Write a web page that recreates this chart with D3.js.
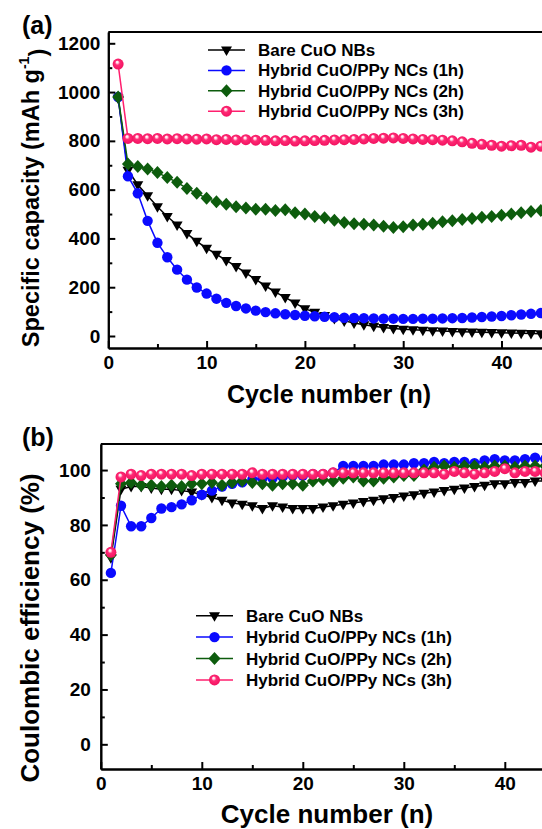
<!doctype html>
<html>
<head>
<meta charset="utf-8">
<style>
  body { margin: 0; background: #fff; }
  svg { display: block; font-family: "Liberation Sans", Arial, sans-serif; font-weight: bold; }
</style>
<script src="https://cdn.jsdelivr.net/npm/d3@7"></script>
</head>
<body>
<script>
// cycle numbers (x values)
var cycles = [1, 2, 3, 4, 5, 6, 7, 8, 9, 10, 11, 12, 13, 14, 15, 16, 17, 18, 19, 20,
  21, 22, 23, 24, 25, 26, 27, 28, 29, 30, 31, 32, 33, 34, 35, 36, 37, 38, 39, 40,
  41, 42, 43, 44, 45];

var seriesNames = ["Bare CuO NBs", "Hybrid CuO/PPy NCs (1h)",
  "Hybrid CuO/PPy NCs (2h)", "Hybrid CuO/PPy NCs (3h)"];

// (a) specific capacity, mAh/g
var capBare = [975, 680, 620, 575, 530, 490, 455, 420, 388, 360, 335, 310, 285, 258, 232, 205, 180, 158, 135, 112,
  97, 84, 72, 62, 53, 46, 40, 35, 31, 28, 26, 24, 22, 20, 18, 17, 16, 15, 14, 13, 12, 11, 10, 9, 8];
var capH1 = [980, 655, 585, 472, 382, 323, 272, 231, 199, 174, 153, 136, 123, 113, 104, 98, 93, 89, 86, 83,
  81, 79, 77, 75, 74, 73, 72, 71, 71, 70, 70, 71, 71, 72, 73, 74, 76, 78, 80, 82, 85, 88, 91, 94, 97];
var capH2 = [980, 705, 695, 685, 670, 650, 630, 605, 585, 565, 550, 540, 530, 525, 520, 520, 515, 518, 505, 500,
  490, 485, 475, 465, 460, 458, 455, 450, 445, 448, 455, 458, 462, 468, 472, 478, 482, 487, 490, 495,
  500, 505, 510, 515, 520];
var capH3 = [1115, 810, 810, 809, 810, 808, 809, 808, 807, 808, 805, 806, 804, 805, 803, 802, 800, 801, 799, 800,
  801, 802, 804, 805, 806, 808, 810, 811, 812, 810, 808, 806, 805, 803, 800, 796, 790, 786, 782, 778,
  780, 782, 774, 778, 776];

// (b) coulombic efficiency, %
var ceBare = [68, 93, 94, 94, 93.5, 93, 93, 92.5, 92, 91, 90, 89, 88, 87.5, 87, 86, 87, 86.5, 86, 86,
  86, 86.5, 87, 87.5, 88, 88.5, 89, 89.5, 90, 90.5, 91, 91.5, 92, 92.5, 93, 93.5, 94, 94.5, 95, 95,
  95.5, 95.5, 96, 96, 96.5];
var ceH1 = [62.5, 87, 79.5, 79.5, 82.5, 86, 86.5, 87.5, 89, 91, 92.5, 94, 95, 95.5, 96.5, 97, 97, 97.5, 98, 98,
  98.5, 98.5, 99, 101.5, 101.5, 101.5, 101.5, 102, 102, 102, 102.5, 102.5, 103, 102.5, 103, 103, 102.5, 103.5, 104, 103.5,
  103.5, 104, 104.5, 104, 104];
var ceH2 = [69, 95, 95.5, 94.5, 94.5, 94, 94.5, 94, 95, 95, 95.5, 94.5, 95.5, 96, 95.5, 95, 94.5, 95, 95, 94.5,
  96, 96.5, 96, 97, 97.5, 96, 96, 97, 97.5, 98, 98, 100, 101, 101.5, 101, 101.5, 101.5, 101, 101.5, 101.5,
  101, 101.5, 101.5, 101.5, 101.5];
var ceH3 = [70, 97.5, 98.5, 98, 98.5, 98.5, 98.5, 98.5, 98, 98.5, 98.5, 98.5, 98.5, 98.5, 99, 98.5, 98.5, 98.5, 98.5, 98.5,
  98.5, 98.5, 99, 99, 99, 99, 99, 99, 99, 99, 99, 99, 99, 98.5, 99.5, 99, 98.5, 99, 99.5, 100.5,
  99, 99.5, 99.5, 99, 99];

// tick values
var xTicks = [0, 10, 20, 30, 40];
var xMinorTicks = [5, 15, 25, 35, 45];
var capTicks = [0, 200, 400, 600, 800, 1000, 1200];
var capMinorTicks = [100, 300, 500, 700, 900, 1100];
var ceTicks = [0, 20, 40, 60, 80, 100];
var ceMinorTicks = [10, 30, 50, 70, 90];

var W = 542, H = 829;
var colors = ["#000000", "#0a0aff", "#0d5c0d", "#ff1f6e"];

var svg = d3.select("body").append("svg")
  .attr("width", W)
  .attr("height", H);

// shiny pink ball
var grad = svg.append("defs").append("radialGradient")
  .attr("id", "pinkBall")
  .attr("cx", "50%").attr("cy", "50%").attr("r", "55%")
  .attr("fx", "40%").attr("fy", "30%");
grad.append("stop").attr("offset", "0%").attr("stop-color", "#ffffff");
grad.append("stop").attr("offset", "16%").attr("stop-color", "#ffe0ea");
grad.append("stop").attr("offset", "40%").attr("stop-color", "#ff2a75");
grad.append("stop").attr("offset", "100%").attr("stop-color", "#f0105e");

var shapes = [
  "M-5.5,-3.5L5.5,-3.5L0,6Z",
  d3.symbol(d3.symbolCircle, Math.PI * 5.2 * 5.2)(),
  "M0,-6.5L6,0L0,6.5L-6,0Z",
  d3.symbol(d3.symbolCircle, Math.PI * 5.5 * 5.5)()
];
var fills = [colors[0], colors[1], colors[2], "url(#pinkBall)"];

function drawPanel(cfg) {
  var g = svg.append("g");

  var x = d3.scaleLinear().domain([0, 50]).range([cfg.x0, cfg.x0 + cfg.per10 * 5]);
  var y = d3.scaleLinear().domain(cfg.yDomain).range([cfg.bottom, cfg.top]);

  // series: line then symbols
  cfg.series.forEach(function(vals, i) {
    var pts = cycles.map(function(c, j) { return [c, vals[j]]; });
    g.append("path")
      .datum(pts)
      .attr("fill", "none")
      .attr("stroke", colors[i])
      .attr("stroke-width", 1.5)
      .attr("d", d3.line().x(function(d) { return x(d[0]); }).y(function(d) { return y(d[1]); }));
    g.selectAll(null)
      .data(pts)
      .enter()
      .append("path")
      .attr("transform", function(d) { return "translate(" + x(d[0]) + "," + y(d[1]) + ")"; })
      .attr("d", shapes[i])
      .attr("fill", fills[i]);
  });

  // frame top
  g.append("line")
    .attr("x1", cfg.x0).attr("x2", W)
    .attr("y1", cfg.top).attr("y2", cfg.top)
    .attr("stroke", "#000").attr("stroke-width", 2);

  // minor ticks
  g.append("g")
    .attr("transform", "translate(0," + cfg.bottom + ")")
    .call(d3.axisBottom(x).tickValues(xMinorTicks).tickSize(-4).tickSizeOuter(0).tickFormat(""));
  g.append("g")
    .attr("transform", "translate(" + cfg.x0 + ",0)")
    .call(d3.axisLeft(y).tickValues(cfg.yMinor).tickSize(-4).tickSizeOuter(0).tickFormat(""));

  // major axes
  var xa = g.append("g")
    .attr("transform", "translate(0," + cfg.bottom + ")")
    .call(d3.axisBottom(x).tickValues(xTicks).tickSize(-7).tickSizeOuter(0).tickPadding(8)
      .tickFormat(d3.format("d")));
  var ya = g.append("g")
    .attr("transform", "translate(" + cfg.x0 + ",0)")
    .call(d3.axisLeft(y).tickValues(cfg.yTicks).tickSize(-7).tickSizeOuter(0).tickPadding(cfg.yPad)
      .tickFormat(d3.format("d")));

  g.selectAll(".domain").attr("stroke-width", 2);
  g.selectAll(".tick line").attr("stroke-width", 2);
  [xa, ya].forEach(function(a) {
    a.attr("font-family", null).attr("font-size", null);
    a.selectAll("text").attr("font-size", 19).attr("fill", "#000");
  });

  // axis titles
  g.append("text")
    .attr("x", cfg.xTitleX).attr("y", cfg.xTitleY)
    .attr("text-anchor", "middle")
    .attr("font-size", cfg.titleSize)
    .text("Cycle number (n)");

  var yt = g.append("text")
    .attr("transform", "translate(39," + cfg.yTitleY + ") rotate(-90)")
    .attr("text-anchor", "middle")
    .attr("font-size", cfg.yTitleSize);
  cfg.yTitle(yt);

  // panel letter
  g.append("text")
    .attr("x", 22).attr("y", cfg.letterY)
    .attr("font-size", 25)
    .text(cfg.letter);

  // legend
  seriesNames.forEach(function(name, i) {
    var ly = cfg.legY + i * cfg.legStep;
    g.append("line")
      .attr("x1", cfg.legX).attr("x2", cfg.legX + 37)
      .attr("y1", ly).attr("y2", ly)
      .attr("stroke", colors[i]).attr("stroke-width", 1.5);
    g.append("path")
      .attr("transform", "translate(" + (cfg.legX + 18.5) + "," + ly + ")")
      .attr("d", shapes[i])
      .attr("fill", fills[i]);
    g.append("text")
      .attr("x", cfg.legX + 50).attr("y", ly + 6)
      .attr("font-size", 17)
      .text(name);
  });
}

drawPanel({
  x0: 108.3, per10: 98.3,
  yDomain: [-49.2, 1246.3], top: 32, bottom: 348,
  yTicks: capTicks, yMinor: capMinorTicks, yPad: 8,
  series: [capBare, capH1, capH2, capH3],
  xTitleX: 329, xTitleY: 403, yTitleY: 198, titleSize: 25, yTitleSize: 23.5,
  yTitle: function(t) {
    t.append("tspan").text("Specific capacity (mAh g");
    t.append("tspan").attr("font-size", 14).attr("dy", "-0.7em").text("-1");
    t.append("tspan").attr("dy", "0.7em").text(")");
  },
  letter: "(a)", letterY: 34,
  legX: 208, legY: 50, legStep: 20.4
});

drawPanel({
  x0: 100.8, per10: 101,
  yDomain: [-9, 109.5], top: 444, bottom: 769,
  yTicks: ceTicks, yMinor: ceMinorTicks, yPad: 10,
  series: [ceBare, ceH1, ceH2, ceH3],
  xTitleX: 327, xTitleY: 823, yTitleY: 628, titleSize: 26, yTitleSize: 26,
  yTitle: function(t) { t.text("Coulombic efficiency (%)"); },
  letter: "(b)", letterY: 446,
  legX: 196, legY: 615.7, legStep: 21.4
});
</script>
</body>
</html>
